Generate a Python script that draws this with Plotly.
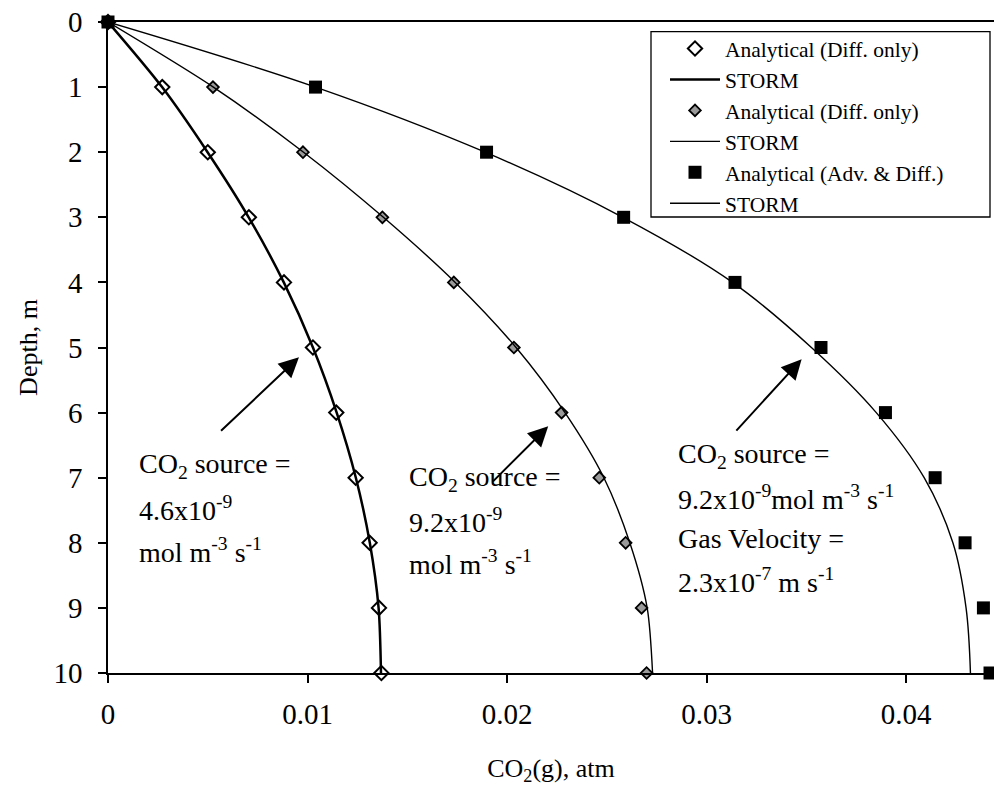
import plotly.graph_objects as go

# ---------------- data ----------------
depth = [0, 1, 2, 3, 4, 5, 6, 7, 8, 9, 10]

analytical_diff_low = [0, 0.00272, 0.00500, 0.00706, 0.00882, 0.01027, 0.01144, 0.01241, 0.01311, 0.01358, 0.01370]
storm_diff_low = [0, 0.00271, 0.00499, 0.00705, 0.00881, 0.01027, 0.01146, 0.01242, 0.01312, 0.01356, 0.01368]

analytical_diff_high = [0, 0.00526, 0.00977, 0.01375, 0.01733, 0.02034, 0.02273, 0.02462, 0.02594, 0.02674, 0.02699]
storm_diff_high = [0, 0.00528, 0.00980, 0.01380, 0.01740, 0.02045, 0.02290, 0.02485, 0.02615, 0.02702, 0.02729]

analytical_adv_diff = [0, 0.01040, 0.01897, 0.02584, 0.03142, 0.03573, 0.03896, 0.04145, 0.04295, 0.04387, 0.04420]
storm_adv_diff = [0, 0.01040, 0.01890, 0.02580, 0.03130, 0.03525, 0.03850, 0.04090, 0.04234, 0.04300, 0.04322]

x_tickvals = [0, 0.01, 0.02, 0.03, 0.04]
x_ticktext = ["0", "0.01", "0.02", "0.03", "0.04"]
y_tickvals = [0, 1, 2, 3, 4, 5, 6, 7, 8, 9, 10]

FONT = "Liberation Serif"

fig = go.Figure()

fig.add_trace(go.Scatter(
    x=analytical_diff_low, y=depth, mode="markers", name="Analytical (Diff. only)",
    marker=dict(symbol="diamond", size=11, color="white", line=dict(color="black", width=2)),
    cliponaxis=False))
fig.add_trace(go.Scatter(
    x=storm_diff_low, y=depth, mode="lines", name="STORM",
    line=dict(color="black", width=2.5, shape="spline", smoothing=0.8)))
fig.add_trace(go.Scatter(
    x=analytical_diff_high, y=depth, mode="markers", name="Analytical (Diff. only)",
    marker=dict(symbol="diamond", size=9, color="#9a9a9a", line=dict(color="black", width=1.8)),
    cliponaxis=False))
fig.add_trace(go.Scatter(
    x=storm_diff_high, y=depth, mode="lines", name="STORM",
    line=dict(color="black", width=1.4, shape="spline", smoothing=0.8)))
fig.add_trace(go.Scatter(
    x=analytical_adv_diff, y=depth, mode="markers", name="Analytical (Adv. & Diff.)",
    marker=dict(symbol="square", size=13, color="black", line=dict(color="black", width=0)),
    cliponaxis=False))
fig.add_trace(go.Scatter(
    x=storm_adv_diff, y=depth, mode="lines", name="STORM",
    line=dict(color="black", width=1.4, shape="spline", smoothing=1.0)))

# plot area in page pixels: x 108..994, y 22..673 (body margin removed below)
L, T, W, H = 108, 22, 886, 651
FIG_W, FIG_H = 994, 786
def px(xp):
    return (xp - L) / W
def py(yp):
    return 1 - (yp - T) / H

# legend box
fig.add_shape(type="rect", xref="paper", yref="paper",
              x0=px(651), x1=px(990), y0=py(217), y1=py(31.7),
              line=dict(color="black", width=1.3), fillcolor="rgba(0,0,0,0)")

# arrows (tip x,y ; tail ax,ay) in data coordinates
arrows = [
    (0.00957, 5.15, 0.00559, 6.30),
    (0.02206, 6.21, 0.01922, 7.08),
    (0.03476, 5.18, 0.03142, 6.30),
]
for (x, y, ax, ay) in arrows:
    fig.add_annotation(x=x, y=y, ax=ax, ay=ay, xref="x", yref="y", axref="x", ayref="y",
                       text="", showarrow=True, arrowhead=2, arrowsize=2.0, arrowwidth=2,
                       arrowcolor="black")

# annotation text lines: (x_px, center_y_px, text) in page pixels
label_lines = [
    (137, 465, "CO<sub>2</sub> source ="),
    (137, 508, "4.6x10<sup>-9</sup>"),
    (137, 550, "mol m<sup>-3</sup> s<sup>-1</sup>"),
    (407, 478, "CO<sub>2</sub> source ="),
    (407, 520, "9.2x10<sup>-9</sup>"),
    (407, 562, "mol m<sup>-3</sup> s<sup>-1</sup>"),
    (676, 455, "CO<sub>2</sub> source ="),
    (676, 497, "9.2x10<sup>-9</sup>mol m<sup>-3</sup> s<sup>-1</sup>"),
    (676, 538, "Gas Velocity ="),
    (676, 580, "2.3x10<sup>-7</sup> m s<sup>-1</sup>"),
]
for (xp, yp, t) in label_lines:
    fig.add_annotation(x=px(xp), y=py(yp), xref="paper", yref="paper", text=t,
                       showarrow=False, xanchor="left", yanchor="middle",
                       font=dict(family=FONT, size=28, color="black"))

fig.update_layout(
    width=FIG_W, height=FIG_H, autosize=False,
    margin=dict(l=L, r=FIG_W - L - W, t=T, b=FIG_H - T - H, pad=0),
    paper_bgcolor="white", plot_bgcolor="white",
    font=dict(family=FONT, size=29, color="black"),
    showlegend=True,
    legend=dict(x=px(665), y=py(28), xanchor="left", yanchor="top",
                bgcolor="rgba(0,0,0,0)", borderwidth=0,
                font=dict(family=FONT, size=21.5, color="black"),
                itemwidth=50, tracegroupgap=0, traceorder="normal"),
    xaxis=dict(range=[0, 0.0444], tickvals=x_tickvals, ticktext=x_ticktext,
               showgrid=False, zeroline=False, showline=True, linecolor="black", linewidth=1.5,
               mirror=True, ticks="outside", ticklen=8, tickwidth=1.5, tickcolor="black",
               ticklabelstandoff=6, ticklabeloverflow="allow",
               title=dict(text="CO<sub>2</sub>(g), atm", font=dict(family=FONT, size=26), standoff=34)),
    yaxis=dict(range=[10, 0], tickvals=y_tickvals,
               showgrid=False, zeroline=False, showline=True, linecolor="black", linewidth=1.5,
               ticks="outside", ticklen=8, tickwidth=1.5, tickcolor="black",
               ticklabelstandoff=10, ticklabeloverflow="allow",
               title=dict(text="Depth, m", font=dict(family=FONT, size=26), standoff=8)),
)

fig.write_html(
    "out.html",
    config={"displayModeBar": False},
    post_script="document.body.style.margin='0px';document.body.style.overflow='hidden';",
)
